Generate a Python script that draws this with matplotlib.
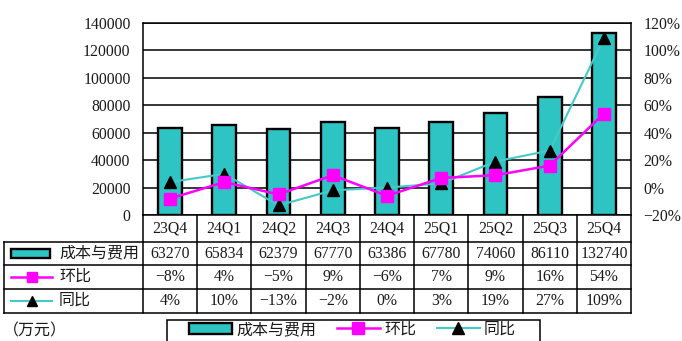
import matplotlib
matplotlib.use("Agg")
import matplotlib.pyplot as plt
from matplotlib.lines import Line2D
from matplotlib.patches import Rectangle
from matplotlib.ticker import FuncFormatter

plt.rcParams['font.family'] = ['Liberation Serif', 'Noto Sans CJK SC', 'DejaVu Sans']
plt.rcParams['font.size'] = 11

quarters = ['23Q4', '24Q1', '24Q2', '24Q3', '24Q4', '25Q1', '25Q2', '25Q3', '25Q4']
cost = [63270, 65834, 62379, 67770, 63386, 67780, 74060, 86110, 132740]
qoq = [-8, 4, -5, 9, -6, 7, 9, 16, 54]
yoy = [4, 10, -13, -2, 0, 3, 19, 27, 109]
series_names = ['成本与费用', '环比', '同比']
unit_label = '（万元）'

TEAL = '#2EC4C4'
CYAN = '#45C9C9'
MAGENTA = '#FF00FF'
TXT = '#1a1a1a'
CJK_SIZE = 11.5

W, H = 682, 341
fig = plt.figure(figsize=(W / 100, H / 100), dpi=100)


def fx(px):
    return px / W


def fy(py):
    return 1 - py / H


L, R, T, B = 143, 631, 23, 215
ax = fig.add_axes([fx(L), fy(B), fx(R) - fx(L), fy(T) - fy(B)])


def axx(px):
    return (px - L) / (R - L)


def axy(py):
    return (B - py) / (B - T)


x = list(range(len(quarters)))
bars = ax.bar(x, cost, width=0.44, color=TEAL, edgecolor='black', linewidth=1.7, zorder=3)
ax.set_xlim(-0.5, len(quarters) - 0.5)
ax.set_ylim(0, 140000)
ax.set_yticks(range(0, 140001, 20000))
ax.set_xticks([])
ax.yaxis.grid(True, color='black', linewidth=1.1)
ax.set_axisbelow(True)
ax.tick_params(axis='y', length=0, pad=9, labelcolor=TXT, labelsize=11.3)
for s in ax.spines.values():
    s.set_color('black')
    s.set_linewidth(1.1)

ax2 = ax.twinx()
ax2.set_ylim(-20, 120)
ax2.set_yticks(range(-20, 121, 20))
ax2.yaxis.set_major_formatter(FuncFormatter(lambda v, p: f'{v:.0f}%'.replace('-', '−')))
ax2.tick_params(axis='y', length=0, pad=9, labelcolor=TXT, labelsize=11.3)
for s in ax2.spines.values():
    s.set_visible(False)

l_yoy, = ax2.plot(x, yoy, color=CYAN, linewidth=1.5, marker='^', markersize=8,
                  markerfacecolor='black', markeredgecolor='black', zorder=4)
l_qoq, = ax2.plot(x, qoq, color=MAGENTA, linewidth=1.8, marker='s', markersize=8,
                  markerfacecolor=MAGENTA, markeredgecolor=MAGENTA, zorder=5)

# data table under the plot
rows_y = [215, 242, 265, 289, 313]
left_x = 4
n = len(quarters)


def hline(x0, x1, y):
    ax.add_line(Line2D([x0, x1], [axy(y), axy(y)], transform=ax.transAxes,
                       color='black', linewidth=1.1, clip_on=False))


def vline(xa, y0, y1):
    ax.add_line(Line2D([xa, xa], [axy(y0), axy(y1)], transform=ax.transAxes,
                       color='black', linewidth=1.1, clip_on=False))


for y in rows_y[1:]:
    hline(axx(left_x), 1, y)
vline(axx(left_x), rows_y[1], rows_y[-1])
for i in range(n + 1):
    vline(i / n, rows_y[0], rows_y[-1])

table_rows = [quarters,
              [str(v) for v in cost],
              [f'{v}%'.replace('-', '−') for v in qoq],
              [f'{v}%'.replace('-', '−') for v in yoy]]
for r, vals in enumerate(table_rows):
    yc = axy((rows_y[r] + rows_y[r + 1]) / 2)
    for i, v in enumerate(vals):
        ax.text((i + 0.5) / n, yc, v, transform=ax.transAxes, ha='center', va='center',
                color=TXT, fontsize=11.3, clip_on=False)

# row labels with their symbols
for r, name in enumerate(series_names, start=1):
    yc = (rows_y[r] + rows_y[r + 1]) / 2
    ax.text(axx(59), axy(yc), name, transform=ax.transAxes, ha='left', va='center',
            color=TXT, fontsize=CJK_SIZE, clip_on=False)
yc1 = (rows_y[1] + rows_y[2]) / 2
ax.add_patch(Rectangle((axx(11), axy(yc1 + 4.5)), axx(50) - axx(11), axy(yc1 - 4.5) - axy(yc1 + 4.5),
                       transform=ax.transAxes, facecolor=TEAL, edgecolor='black',
                       linewidth=1.7, clip_on=False))
for r, line in ((2, l_qoq), (3, l_yoy)):
    yc = axy((rows_y[r] + rows_y[r + 1]) / 2)
    ax.add_line(Line2D([axx(11), axx(52)], [yc, yc], transform=ax.transAxes,
                       color=line.get_color(), linewidth=line.get_linewidth(), clip_on=False))
    ax.add_line(Line2D([axx(32)], [yc], transform=ax.transAxes, marker=line.get_marker(),
                       markersize=7, markerfacecolor=line.get_markerfacecolor(),
                       markeredgecolor=line.get_markeredgecolor(), linestyle='none', clip_on=False))

# legend at the bottom
fig.add_artist(Rectangle((fx(167), fy(352)), fx(540) - fx(167), fy(320) - fy(352),
                         transform=fig.transFigure, facecolor='white', edgecolor='black',
                         linewidth=1.1))
fig.legend([bars, l_qoq, l_yoy], series_names, loc='center left',
           bbox_to_anchor=(fx(189), fy(330)), ncol=3, frameon=False, borderpad=0,
           borderaxespad=0, handlelength=2.7, handletextpad=0.25, columnspacing=1.3,
           fontsize=CJK_SIZE, labelcolor=TXT)

fig.text(fx(3), fy(331), unit_label, ha='left', va='center', color=TXT, fontsize=CJK_SIZE)

fig.savefig('out.png', dpi=100)
